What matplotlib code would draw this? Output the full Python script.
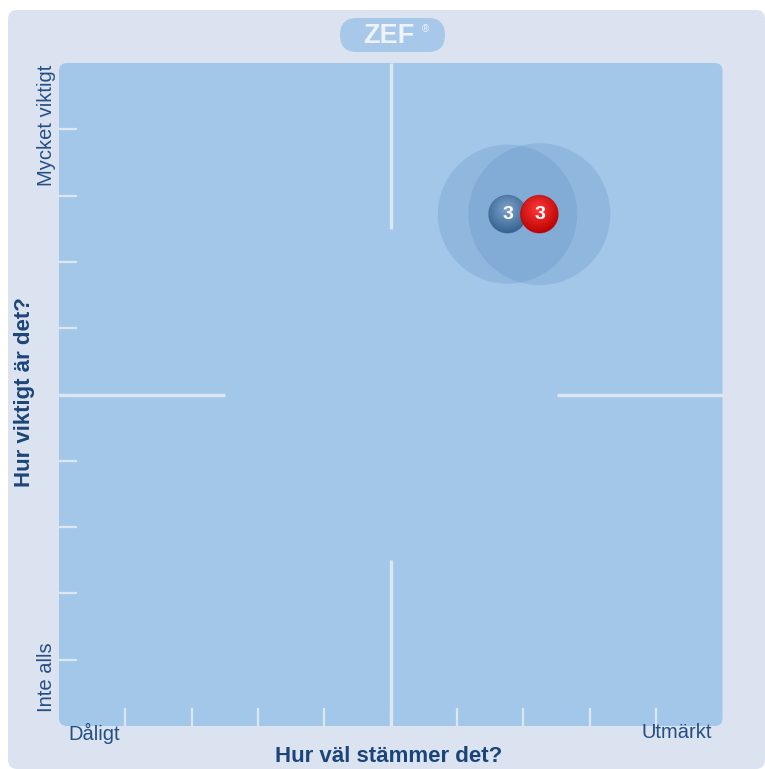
import matplotlib.pyplot as plt
import numpy as np
from matplotlib.patches import FancyBboxPatch, Circle
from matplotlib.colors import to_rgb

# data (scale 0..10 on both axes)
groups = ['blue', 'red']
x_vals = [6.76, 7.24]          # Hur väl stämmer det?
y_vals = [7.72, 7.72]          # Hur viktigt är det?
spread = [1.05, 1.07]          # radius of the shaded circles
counts = ['3', '3']
ball_dark = ['#34608f', '#b80000']
ball_light = ['#7da3cc', '#ff3a3a']

tick_pos = [1, 2, 3, 4, 5, 6, 7, 8, 9]

W, H = 765, 769
bg_panel = '#dce3f0'
plot_bg = '#a3c7e8'
line_col = '#dde6f3'
text_col = '#244f86'
title_col = '#1b457a'


def fx(px):
    return px / W


def fy(py):
    return 1 - py / H


fig = plt.figure(figsize=(W / 100, H / 100), dpi=100, facecolor='white')

# lavender backdrop panel
panel = FancyBboxPatch((fx(8), 0), 1 - fx(8), fy(10),
                       boxstyle='round,pad=0,rounding_size=0.012',
                       transform=fig.transFigure, fc=bg_panel, ec='none',
                       zorder=-5)
fig.patches.append(panel)

ax = fig.add_axes([fx(59), fy(726), fx(663.5), 663 / H])
ax.set_zorder(2)
ax.set_xlim(0, 10)
ax.set_ylim(0, 10)
ax.axis('off')

ax.add_patch(FancyBboxPatch((0, 0), 10, 10,
                            boxstyle='round,pad=0,rounding_size=0.12',
                            fc=plot_bg, ec='none', zorder=0, clip_on=False))

# ticks
for v in tick_pos:
    ax.plot([0, 0.27], [v, v], color=line_col, lw=1.6, zorder=1,
            solid_capstyle='butt')
    ax.plot([v, v], [0, 0.27], color=line_col, lw=1.6, zorder=1,
            solid_capstyle='butt')

# centre cross with a gap
for xs, ys in [([5, 5], [7.5, 10]), ([5, 5], [0, 2.5]),
               ([0, 2.5], [5, 5]), ([7.5, 10], [5, 5])]:
    ax.plot(xs, ys, color=line_col, lw=2.4, zorder=1, solid_capstyle='butt')

# spread circles
for x, y, r in zip(x_vals, y_vals, spread):
    ax.add_patch(Circle((x, y), r, fc='#5f8fc2', ec='none', alpha=0.27,
                        zorder=2))

# balls with radial shading
ball_r = 0.285
n = 80
gx, gy = np.meshgrid(np.linspace(-1, 1, n), np.linspace(-1, 1, n))
for i, (x, y) in enumerate(zip(x_vals, y_vals)):
    d = np.sqrt((gx + 0.05) ** 2 + (gy + 0.25) ** 2)
    t = np.clip(d / 1.3, 0, 1)
    c0 = np.array(to_rgb(ball_light[i]))
    c1 = np.array(to_rgb(ball_dark[i]))
    img = c0[None, None, :] * (1 - t[..., None]) + c1[None, None, :] * t[..., None]
    clip = Circle((x, y), ball_r, transform=ax.transData, fc='none', ec='none')
    ax.add_patch(clip)
    im = ax.imshow(img, extent=[x - ball_r, x + ball_r, y - ball_r, y + ball_r],
                   origin='upper', zorder=3 + i, interpolation='bilinear')
    im.set_clip_path(clip)
    ax.add_patch(Circle((x, y), ball_r, fc='none', ec=ball_dark[i], lw=0.6,
                        alpha=0.6, zorder=3 + i))
    ax.text(x + 0.01, y, counts[i], color='white', fontsize=14,
            family='Liberation Sans', fontweight='bold', ha='center',
            va='center', zorder=3 + i)
ax.set_aspect('auto')
ax.set_xlim(0, 10)
ax.set_ylim(0, 10)

# ZEF badge
badge = FancyBboxPatch((fx(340), fy(52)), fx(105), 34 / H,
                       boxstyle='round,pad=0,rounding_size=0.022',
                       transform=fig.transFigure, fc='#a7c8e9', ec='none')
fig.patches.append(badge)
fig.text(fx(389), fy(36), 'ZEF', color='#eef3fa', fontsize=19.5,
         family='Liberation Sans', fontweight='bold', ha='center', va='center')
fig.text(fx(425), fy(29), '®', color='#eef3fa', fontsize=7,
         family='Liberation Sans', ha='center', va='center')

# axis texts
fig.text(fx(46), fy(65), 'Mycket viktigt', rotation=90, color=text_col,
         fontsize=14.5, family='Liberation Sans', ha='center', va='top')
fig.text(fx(46), fy(712), 'Inte alls', rotation=90, color=text_col,
         fontsize=14.5, family='Liberation Sans', ha='center', va='bottom')
fig.text(fx(25), fy(392), 'Hur viktigt är det?', rotation=90, color=title_col,
         fontsize=16, family='Liberation Sans', fontweight='bold',
         ha='center', va='center')
fig.text(fx(68), fy(733), 'Dåligt', color=text_col, fontsize=14.5,
         family='Liberation Sans', ha='left', va='center')
fig.text(fx(712), fy(733), 'Utmärkt', color=text_col, fontsize=14.5,
         family='Liberation Sans', ha='right', va='center')
fig.text(fx(389), fy(757), 'Hur väl stämmer det?', color=title_col,
         fontsize=16, family='Liberation Sans', fontweight='bold',
         ha='center', va='center')

fig.savefig('out.png', dpi=100, facecolor='white')
